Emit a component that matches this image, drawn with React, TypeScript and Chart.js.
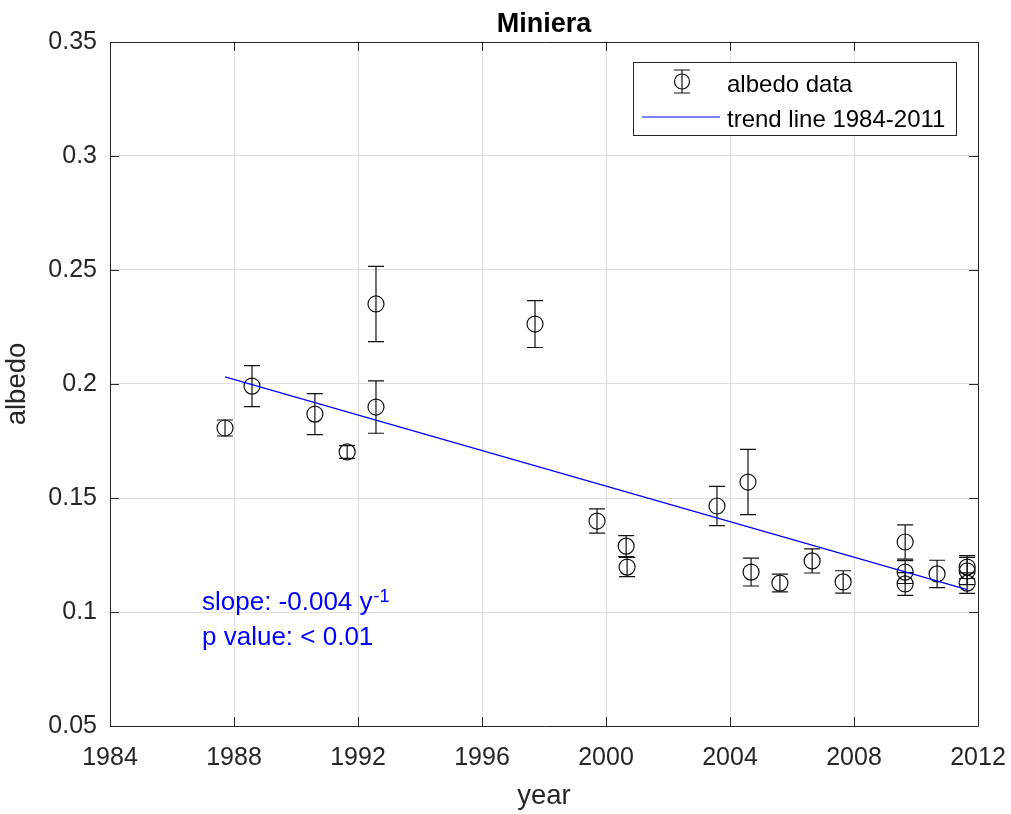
import React, { useEffect, useRef } from "react";
import { Chart, registerables } from "chart.js";

Chart.register(...registerables);

const years = [1987.71, 1988.58, 1990.61, 1991.65, 1992.58, 1992.58, 1997.71, 1999.71, 2000.65, 2000.68, 2003.58, 2004.58, 2004.68, 2005.61, 2006.65, 2007.65, 2009.65, 2009.65, 2009.65, 2010.68, 2011.65, 2011.65, 2011.65];
const albedo = [0.1807, 0.1991, 0.1868, 0.1702, 0.2351, 0.1899, 0.2263, 0.1399, 0.1289, 0.1197, 0.1465, 0.157, 0.1175, 0.1127, 0.1224, 0.1132, 0.1307, 0.1175, 0.1123, 0.1167, 0.1197, 0.118, 0.1127];
const albedoErr = [0.0035, 0.009, 0.009, 0.0028, 0.0165, 0.0115, 0.0103, 0.0053, 0.0046, 0.0042, 0.0086, 0.0143, 0.0061, 0.0039, 0.0053, 0.0049, 0.0075, 0.005, 0.005, 0.006, 0.005, 0.006, 0.0045];

const trendYears = [1987.71, 2011.65];
const trendValues = [0.2031, 0.1098];

const xTicks = [1984, 1988, 1992, 1996, 2000, 2004, 2008, 2012];
const xTickLabels = ["1984", "1988", "1992", "1996", "2000", "2004", "2008", "2012"];
const yTicks = [0.05, 0.1, 0.15, 0.2, 0.25, 0.3, 0.35];
const yTickLabels = ["0.05", "0.1", "0.15", "0.2", "0.25", "0.3", "0.35"];

const titleText = "Miniera";
const xLabel = "year";
const yLabel = "albedo";
const legendLabels = ["albedo data", "trend line 1984-2011"];
const slopeText = "slope: -0.004 y";
const slopeSup = "-1";
const pText = "p value: < 0.01";

const FONT = "'Liberation Sans', Arial, Helvetica, sans-serif";
const AXIS_COLOR = "#262626";

const errorBarPlugin = {
  id: "errorBars",
  beforeDatasetsDraw(chart: any) {
    const { ctx, scales } = chart;
    const xs = scales.x;
    const ys = scales.y;
    ctx.save();
    ctx.strokeStyle = "#111";
    ctx.lineWidth = 1.2;
    for (let i = 0; i < years.length; i++) {
      const px = xs.getPixelForValue(years[i]);
      const pTop = ys.getPixelForValue(albedo[i] + albedoErr[i]);
      const pBot = ys.getPixelForValue(albedo[i] - albedoErr[i]);
      ctx.beginPath();
      ctx.moveTo(px, pTop);
      ctx.lineTo(px, pBot);
      ctx.moveTo(px - 8, pTop);
      ctx.lineTo(px + 8, pTop);
      ctx.moveTo(px - 8, pBot);
      ctx.lineTo(px + 8, pBot);
      ctx.stroke();
    }
    ctx.restore();
  },
};

const decorPlugin = {
  id: "decor",
  afterDatasetsDraw(chart: any) {
    const { ctx, chartArea, scales } = chart;
    const { left, right, top, bottom } = chartArea;
    ctx.save();
    ctx.strokeStyle = AXIS_COLOR;
    ctx.lineWidth = 1;
    ctx.beginPath();
    ctx.rect(Math.round(left) + 0.5, Math.round(top) + 0.5, Math.round(right - left), Math.round(bottom - top));
    ctx.stroke();
    const tl = 9;
    ctx.beginPath();
    for (const v of yTicks) {
      const py = Math.round(scales.y.getPixelForValue(v)) + 0.5;
      ctx.moveTo(left, py);
      ctx.lineTo(left + tl, py);
      ctx.moveTo(right, py);
      ctx.lineTo(right - tl, py);
    }
    for (const v of xTicks) {
      const px = Math.round(scales.x.getPixelForValue(v)) + 0.5;
      ctx.moveTo(px, bottom);
      ctx.lineTo(px, bottom - tl);
      ctx.moveTo(px, top);
      ctx.lineTo(px, top + tl);
    }
    ctx.stroke();
    ctx.restore();
  },
  afterDraw(chart: any) {
    const { ctx, chartArea } = chart;
    const cx = (chartArea.left + chartArea.right) / 2;
    ctx.save();
    // title
    ctx.fillStyle = "#000";
    ctx.font = `bold 27px ${FONT}`;
    ctx.textAlign = "center";
    ctx.textBaseline = "alphabetic";
    ctx.fillText(titleText, cx, 32);
    // axis labels
    ctx.fillStyle = AXIS_COLOR;
    ctx.font = `27.5px ${FONT}`;
    ctx.fillText(xLabel, cx, 804);
    ctx.save();
    ctx.translate(24.5, (chartArea.top + chartArea.bottom) / 2);
    ctx.rotate(-Math.PI / 2);
    ctx.fillText(yLabel, 0, 0);
    ctx.restore();

    // annotation
    ctx.fillStyle = "#0000ff";
    ctx.textAlign = "left";
    ctx.font = `26px ${FONT}`;
    ctx.fillText(slopeText, 202, 610);
    const w = ctx.measureText(slopeText).width;
    ctx.font = `18px ${FONT}`;
    ctx.fillText(slopeSup, 202 + w + 1, 602);
    ctx.font = `26px ${FONT}`;
    ctx.fillText(pText, 202, 645);

    // legend
    const lx = 633.5, ly = 62.5, lw = 323, lh = 73;
    ctx.fillStyle = "#fff";
    ctx.fillRect(lx, ly, lw, lh);
    ctx.strokeStyle = AXIS_COLOR;
    ctx.lineWidth = 1;
    ctx.strokeRect(lx, ly, lw, lh);
    // entry 1 icon
    const ix = 682, iy = 81.5;
    ctx.strokeStyle = "#111";
    ctx.lineWidth = 1.2;
    ctx.beginPath();
    ctx.moveTo(ix, iy - 11.5);
    ctx.lineTo(ix, iy + 11.5);
    ctx.moveTo(ix - 8, iy - 11.5);
    ctx.lineTo(ix + 8, iy - 11.5);
    ctx.moveTo(ix - 8, iy + 11.5);
    ctx.lineTo(ix + 8, iy + 11.5);
    ctx.stroke();
    ctx.beginPath();
    ctx.arc(ix, iy, 7.5, 0, Math.PI * 2);
    ctx.stroke();
    // entry 2 icon
    ctx.strokeStyle = "#0000ff";
    ctx.lineWidth = 1.2;
    ctx.beginPath();
    ctx.moveTo(642, 117);
    ctx.lineTo(720, 117);
    ctx.stroke();
    ctx.fillStyle = "#000";
    ctx.font = `24px ${FONT}`;
    ctx.fillText(legendLabels[0], 727, 91.5);
    ctx.fillText(legendLabels[1], 727, 126.5);
    ctx.restore();
  },
};

export default function App() {
  const ref = useRef<HTMLCanvasElement | null>(null);
  useEffect(() => {
    if (!ref.current) return;
    const chart = new Chart(ref.current, {
      type: "scatter",
      data: {
        datasets: [
          {
            type: "line",
            label: legendLabels[1],
            data: trendYears.map((x, i) => ({ x, y: trendValues[i] })),
            borderColor: "#0000ff",
            borderWidth: 1.3,
            pointRadius: 0,
            fill: false,
            showLine: true,
          } as any,
          {
            type: "scatter",
            label: legendLabels[0],
            data: years.map((x, i) => ({ x, y: albedo[i] })),
            pointStyle: "circle",
            pointRadius: 8,
            pointBorderWidth: 1.2,
            borderColor: "#111",
            backgroundColor: "rgba(0,0,0,0)",
            showLine: false,
          } as any,
        ],
      },
      options: {
        responsive: false,
        animation: false,
        devicePixelRatio: 1,
        layout: { padding: { top: 42, left: 0, right: 33, bottom: 0 } },
        plugins: {
          legend: { display: false },
          title: { display: false },
          tooltip: { enabled: false },
        },
        scales: {
          x: {
            type: "linear",
            min: 1984,
            max: 2012,
            afterFit: (s: any) => { s.height = 88; s.paddingLeft = 0; s.paddingRight = 0; },
            afterBuildTicks: (s: any) => { s.ticks = xTicks.map((v) => ({ value: v })); },
            ticks: {
              callback: (_v: any, i: number) => xTickLabels[i],
              font: { family: FONT, size: 25 },
              color: AXIS_COLOR,
              padding: 17,
              maxRotation: 0,
              autoSkip: false,
            },
            grid: { color: "#dedede", drawTicks: false, lineWidth: 1 },
            border: { display: false },
          },
          y: {
            type: "linear",
            min: 0.05,
            max: 0.35,
            afterFit: (s: any) => { s.width = 110; s.paddingTop = 0; s.paddingBottom = 0; },
            afterBuildTicks: (s: any) => { s.ticks = yTicks.map((v) => ({ value: v })); },
            ticks: {
              callback: (_v: any, i: number) => yTickLabels[i],
              font: { family: FONT, size: 25 },
              color: AXIS_COLOR,
              padding: 13,
              autoSkip: false,
            },
            grid: { color: "#dedede", drawTicks: false, lineWidth: 1 },
            border: { display: false },
          },
        },
      },
      plugins: [errorBarPlugin, decorPlugin],
    });
    return () => chart.destroy();
  }, []);
  return (
    <div style={{ position: "absolute", left: 0, top: 0, width: 1011, height: 814, background: "#fff" }}>
      <canvas ref={ref} width={1011} height={814} style={{ width: 1011, height: 814 }} />
    </div>
  );
}
